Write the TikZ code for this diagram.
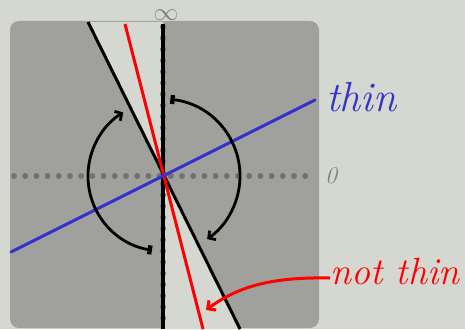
\documentclass[tikz,border=0pt]{standalone}
\usetikzlibrary{arrows.meta}
\definecolor{bgc}{HTML}{D5D8D1}
\definecolor{panelc}{HTML}{A0A19D}
\definecolor{dotc}{HTML}{727270}
\definecolor{labc}{HTML}{808080}
\definecolor{bluec}{HTML}{3434C8}
\definecolor{redc}{HTML}{FF0000}
\begin{document}
\begin{tikzpicture}[x=1pt,y=-1pt,
  dotline/.style={dotc, line width=6pt, line cap=round, dash pattern=on 0pt off 11.2pt},
  blackline/.style={black, line width=3pt},
  arcline/.style={black, line width=2.8pt},
  handtext/.style={inner sep=0pt},
  graylab/.style={labc, inner sep=0pt}
]
\fill[bgc] (0,0) rectangle (465,329);
\useasboundingbox (0,0) rectangle (465,329);
\fill[panelc, rounded corners=9pt] (10,21) rectangle (319,328);
\coordinate (O) at (163,176);
\coordinate (btop) at (88,22);
\coordinate (bbot) at (240,329);
\coordinate (vtop) at (163,22);
\coordinate (vbot) at (163,329);
\coordinate (rtop) at (125,24);
\coordinate (rbot) at (203,329);
\coordinate (blft) at (11,252);
\coordinate (brgt) at (315,100);
\coordinate (hl) at (14,176);
\coordinate (hr) at (314,176);
% light wedges
\fill[bgc] (btop) -- (vtop) -- (O) -- cycle;
\fill[bgc] (O) -- (vbot) -- (bbot) -- cycle;
% dotted axes
\draw[dotline] (hl) -- (hr);
\draw[dotline] (163,27) -- (vbot);
% lines
\draw[black, line width=3.5pt] (163,24) -- (vbot);
\draw[blackline] (btop) -- (bbot);
\draw[redc, line width=3pt] (rtop) -- (rbot);
\draw[bluec, line width=3pt, line cap=round] (blft) -- (brgt);
% arcs
\draw[arcline, {Bracket[width=9pt,length=3pt]}-{Straight Barb[length=5pt,width=11pt]}]
  (O) ++(98.5:75) arc[start angle=98.5, end angle=238, radius=75];
\draw[arcline, {Bracket[width=9pt,length=3pt]}-{Straight Barb[length=5pt,width=11pt]}]
  (O) ++(-84.5:77) arc[start angle=-84.5, end angle=55, radius=77];
% labels
\node[graylab, font=\fontsize{24}{24}\selectfont] (inf) at (166,15) {$\infty$};
\node[graylab, font=\fontsize{24}{24}\selectfont\itshape] (zero) at (331,176) {0};
\node[handtext, bluec, font=\fontsize{42}{42}\selectfont\itshape, anchor=base west] (thin) at (326,111) {thin};
\node[handtext, redc, font=\fontsize{38}{38}\selectfont\itshape, anchor=base west] (notthin) at (330,284) {not thin};
\draw[redc, line width=3pt, -{Straight Barb[length=6pt,width=12pt]}]
  (notthin.west |- 0,278) .. controls (275,277) and (240,285) .. (206,310);
\end{tikzpicture}
\end{document}
